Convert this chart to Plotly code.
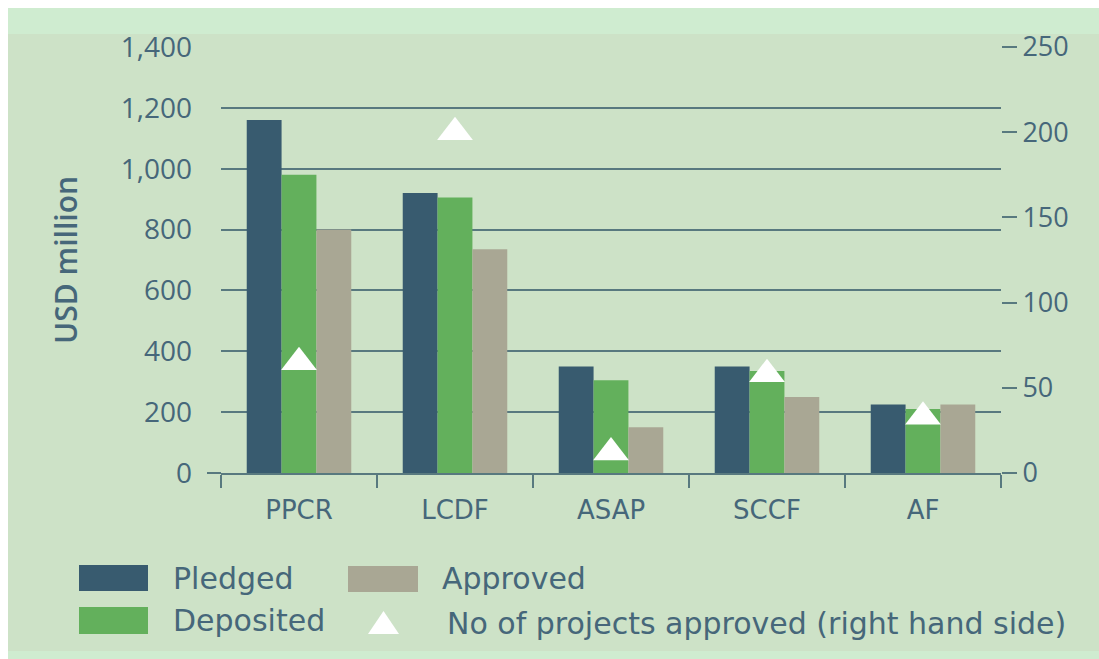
import plotly.graph_objects as go

# ---------------- data ----------------
categories = ["PPCR", "LCDF", "ASAP", "SCCF", "AF"]
pledged = [1160, 920, 350, 350, 225]
deposited = [980, 905, 305, 335, 210]
approved = [800, 735, 150, 250, 225]
projects = [65, 200, 12, 58, 33]

left_ticks = [0, 200, 400, 600, 800, 1000, 1200, 1400]
left_ticktext = ["0", "200", "400", "600", "800", "1,000", "1,200", "1,400"]
right_ticks = [0, 50, 100, 150, 200, 250]

series_names = ["Pledged", "Deposited", "Approved",
                "No of projects approved (right hand side)"]

# ---------------- style ----------------
C_PLEDGED = "#385b6f"
C_DEPOSITED = "#63b05c"
C_APPROVED = "#a9a794"
C_BG = "#cde2c7"
C_BAND = "#cfecd0"
C_TEXT = "#46677a"
C_GRID = "#58797f"
FONT = "Open Sans"
FONT2 = "DejaVu Sans"

OFF = 8  # page body margin (top / left)
PAGE_W, PAGE_H = 1099, 659
W, H = PAGE_W - OFF, PAGE_H - OFF
# plot area in page pixels
PL, PR, PT, PB = 221, 1001, 47, 473
L, R, T, B = PL - OFF, PR - OFF, PT - OFF, PB - OFF


def px(x):
    return (x - PL) / (PR - PL)


def py(y):
    return (PB - y) / (PB - PT)


fig = go.Figure()
fig.add_trace(go.Bar(x=categories, y=pledged, name=series_names[0],
                     marker=dict(color=C_PLEDGED, line=dict(width=0))))
fig.add_trace(go.Bar(x=categories, y=deposited, name=series_names[1],
                     marker=dict(color=C_DEPOSITED, line=dict(width=0))))
fig.add_trace(go.Bar(x=categories, y=approved, name=series_names[2],
                     marker=dict(color=C_APPROVED, line=dict(width=0))))
fig.add_trace(go.Scatter(x=categories, y=projects, name=series_names[3],
                         yaxis="y2", mode="markers",
                         marker=dict(symbol="triangle-up", size=31,
                                     color="white", line=dict(width=0))))

shapes = []
# lighter bands at top and bottom of the figure
shapes.append(dict(type="rect", xref="paper", yref="paper", layer="below",
                   x0=px(0), x1=px(PAGE_W + 20), y0=py(0), y1=py(34),
                   fillcolor=C_BAND, line=dict(width=0)))
shapes.append(dict(type="rect", xref="paper", yref="paper", layer="below",
                   x0=px(0), x1=px(PAGE_W + 20), y0=py(651), y1=py(PAGE_H + 20),
                   fillcolor=C_BAND, line=dict(width=0)))
# small left extension of x-axis line
shapes.append(dict(type="line", xref="paper", yref="paper",
                   x0=px(207), x1=0, y0=0, y1=0,
                   line=dict(color=C_GRID, width=2)))

# legend swatches
shapes.append(dict(type="rect", xref="paper", yref="paper",
                   x0=px(79), x1=px(148), y0=py(591), y1=py(565),
                   fillcolor=C_PLEDGED, line=dict(width=0)))
shapes.append(dict(type="rect", xref="paper", yref="paper",
                   x0=px(79), x1=px(148), y0=py(634), y1=py(607),
                   fillcolor=C_DEPOSITED, line=dict(width=0)))
shapes.append(dict(type="rect", xref="paper", yref="paper",
                   x0=px(348), x1=px(418), y0=py(592), y1=py(566),
                   fillcolor=C_APPROVED, line=dict(width=0)))
shapes.append(dict(type="path", xref="paper", yref="paper",
                   path="M {},{} L {},{} L {},{} Z".format(
                       px(368), py(634), px(399), py(634), px(383.5), py(611)),
                   fillcolor="white", line=dict(width=0)))

annotations = []
leg_font = dict(family=FONT2, size=30, color=C_TEXT)
for text, x, y in [(series_names[0], 171, 578), (series_names[2], 440, 578),
                   (series_names[1], 171, 620), (series_names[3], 445, 623)]:
    annotations.append(dict(text=text, xref="paper", yref="paper",
                            x=px(x), y=py(y), xanchor="left", yanchor="middle",
                            showarrow=False, font=leg_font))

fig.update_layout(
    width=W, height=H, autosize=False,
    margin=dict(l=L, r=W - R, t=T, b=H - B, pad=0),
    paper_bgcolor=C_BG, plot_bgcolor=C_BG,
    barmode="group", bargap=0.33, bargroupgap=0,
    showlegend=False,
    shapes=shapes, annotations=annotations,
    font=dict(family=FONT, color=C_TEXT),
    xaxis=dict(
        showline=True, linecolor=C_GRID, linewidth=2,
        ticks="outside", tickson="boundaries", ticklen=13, tickwidth=2,
        tickcolor=C_GRID, showgrid=False,
        tickfont=dict(family=FONT2, size=26, color=C_TEXT),
        ticklabelstandoff=13,
    ),
    yaxis=dict(
        range=[0, 1400], tickvals=left_ticks, ticktext=left_ticktext,
        showgrid=True, gridcolor=C_GRID, gridwidth=1.6, zeroline=False,
        showline=False, ticks="", ticklabelstandoff=28,
        tickfont=dict(family=FONT, size=28, color=C_TEXT),
        title=dict(text="USD million", standoff=34,
                   font=dict(family=FONT, size=30, color=C_TEXT, weight=600)),
    ),
    yaxis2=dict(
        range=[0, 250], tickvals=right_ticks, overlaying="y", side="right",
        showgrid=False, zeroline=False, showline=False,
        ticks="outside", ticklen=15, tickwidth=2, tickcolor=C_GRID,
        tickfont=dict(family=FONT, size=27, color=C_TEXT),
    ),
)

fig.write_html(
    "out.html",
    post_script=("document.documentElement.style.overflow='hidden';"
                 "document.body.style.overflow='hidden';"
                 "document.body.style.margin='8px 0 0 8px';"),
)
